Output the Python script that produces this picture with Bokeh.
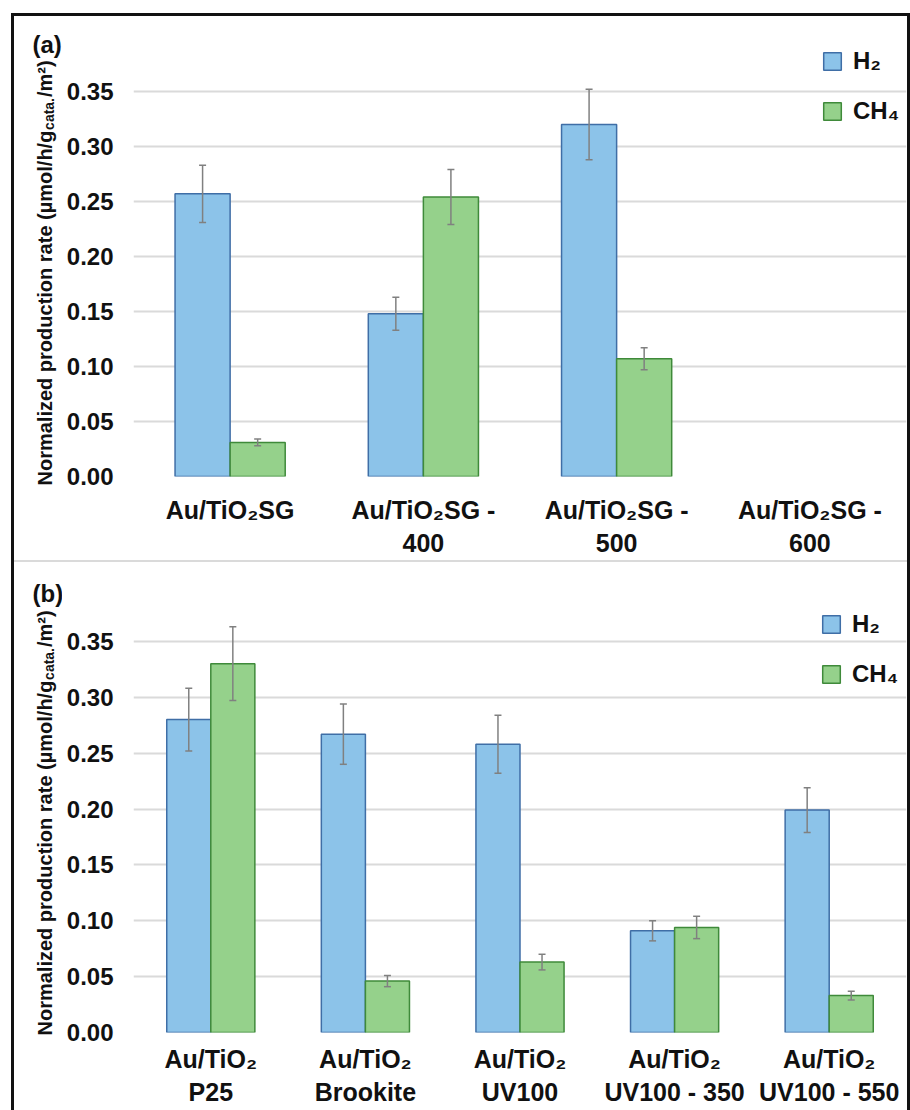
import math
from bokeh.plotting import figure
from bokeh.models import (ColumnDataSource, FactorRange, Range1d, FixedTicker,
                          PrintfTickFormatter, Whisker, TeeHead, Label, Legend,
                          LegendItem, Spacer)
from bokeh.transform import dodge
from bokeh.layouts import column, row
from bokeh.embed import file_html
from bokeh.resources import INLINE

nan = float("nan")

# ---------------- data ----------------
cats_a = ["Au/TiO₂SG", "Au/TiO₂SG -\n400", "Au/TiO₂SG -\n500", "Au/TiO₂SG -\n600"]
h2_a = [0.257, 0.148, 0.320, nan]
h2_a_err = [0.026, 0.015, 0.032, nan]
ch4_a = [0.031, 0.254, 0.107, nan]
ch4_a_err = [0.003, 0.025, 0.010, nan]

cats_b = ["Au/TiO₂\nP25", "Au/TiO₂\nBrookite", "Au/TiO₂\nUV100",
          "Au/TiO₂\nUV100 - 350", "Au/TiO₂\nUV100 - 550"]
h2_b = [0.280, 0.267, 0.258, 0.091, 0.199]
h2_b_err = [0.028, 0.027, 0.026, 0.009, 0.020]
ch4_b = [0.330, 0.046, 0.063, 0.094, 0.033]
ch4_b_err = [0.033, 0.005, 0.007, 0.010, 0.004]

y_ticks = [0.00, 0.05, 0.10, 0.15, 0.20, 0.25, 0.30, 0.35]
grid_ticks = [0.00, 0.05, 0.10, 0.15, 0.20, 0.25, 0.30, 0.35, 0.40]
series_labels = ["H₂", "CH₄"]
panel_tags = ["(a)", "(b)"]
ylabel_main = "Normalized production rate (µmol/h/g"
ylabel_sub = "cata."
ylabel_end = "/m²)"

# ---------------- style ----------------
BLUE_FILL, BLUE_LINE = "#8cc3e9", "#3f6ea6"
GREEN_FILL, GREEN_LINE = "#95d18b", "#3f8a3a"
ERR = "#808080"
GRID = "#dadada"
TXT = "#111111"
FONT = "Liberation Sans"

W = 893          # inner width of the bordered box
SIDE_W = 48      # strip holding the panel tag and the rotated y title
LEFT = 71        # left border of the chart figure (tick labels)
BAR_W = 0.285
OFF = BAR_W / 2


def no_align(fig):
    try:
        fig.frame_align = False
    except Exception:
        pass


def make_side(height, tag, tag_y, ylab_y):
    s = figure(width=SIDE_W, height=height, x_range=Range1d(0, 1), y_range=Range1d(0, 1),
               x_axis_type=None, y_axis_type=None, output_backend="svg",
               toolbar_location=None, min_border=0, outline_line_color=None,
               border_fill_color="white", background_fill_color="white")
    no_align(s)
    s.grid.visible = False
    s.add_layout(Label(x=18, y=tag_y, x_units="canvas", y_units="canvas", text=tag,
                       text_font=FONT, text_font_size="24px", text_font_style="bold",
                       text_color=TXT, text_baseline="middle", text_align="left"))
    fs_main, fs_sub = 20, 14
    w_main = 17.78 * fs_main
    w_sub = 2.28 * fs_sub
    bx = 30
    for txt, yy, fs, xx in ((ylabel_main, ylab_y, fs_main, bx),
                            (ylabel_sub, ylab_y - w_main, fs_sub, bx + 4),
                            (ylabel_end, ylab_y - w_main - w_sub - 1, fs_main, bx)):
        s.add_layout(Label(x=xx, y=yy, x_units="canvas", y_units="canvas", text=txt,
                           angle=math.pi / 2, text_font=FONT, text_font_size=f"{fs}px",
                           text_font_style="bold", text_color=TXT,
                           text_baseline="alphabetic", text_align="left"))
    return s


def make_panel(cats, h2, h2e, ch4, ch4e, height, top_b, frame_h, leg_x, leg_y, x_standoff):
    src = ColumnDataSource(dict(
        cat=cats, h2=h2, ch4=ch4,
        h2_hi=[v + e for v, e in zip(h2, h2e)], h2_lo=[v - e for v, e in zip(h2, h2e)],
        ch4_hi=[v + e for v, e in zip(ch4, ch4e)], ch4_lo=[v - e for v, e in zip(ch4, ch4e)],
    ))
    p = figure(x_range=FactorRange(factors=cats), y_range=Range1d(0, 0.40),
               width=W - SIDE_W, height=height, output_backend="svg", toolbar_location=None,
               min_border_left=LEFT, min_border_right=1, min_border_top=top_b,
               min_border_bottom=height - top_b - frame_h,
               outline_line_color=None, border_fill_color="white",
               background_fill_color="white")
    no_align(p)
    p.xgrid.visible = False
    p.ygrid.ticker = FixedTicker(ticks=grid_ticks)
    p.ygrid.grid_line_color = GRID
    p.ygrid.grid_line_width = 2

    for ax in (p.xaxis, p.yaxis):
        ax.axis_line_color = None
        ax.major_tick_line_color = None
        ax.minor_tick_line_color = None
        ax.major_tick_out = 0
        ax.major_tick_in = 0
        ax.minor_tick_out = 0
        ax.minor_tick_in = 0
        ax.major_label_text_font_style = "bold"
        ax.major_label_text_color = TXT
        ax.major_label_text_font = FONT
    p.yaxis.ticker = FixedTicker(ticks=y_ticks)
    p.yaxis.formatter = PrintfTickFormatter(format="%.2f")
    p.yaxis.major_label_text_font_size = "24px"
    p.yaxis.major_label_standoff = 20
    p.xaxis.major_label_text_font_size = "25px"
    p.xaxis.major_label_standoff = x_standoff
    p.xaxis.major_label_text_line_height = 1.2

    r1 = p.vbar(x=dodge("cat", -OFF, range=p.x_range), top="h2", width=BAR_W, source=src,
                fill_color=BLUE_FILL, line_color=BLUE_LINE, line_width=1.5)
    r2 = p.vbar(x=dodge("cat", OFF, range=p.x_range), top="ch4", width=BAR_W, source=src,
                fill_color=GREEN_FILL, line_color=GREEN_LINE, line_width=1.5)

    for off, hi, lo in ((-OFF, "h2_hi", "h2_lo"), (OFF, "ch4_hi", "ch4_lo")):
        p.add_layout(Whisker(source=src, base=dodge("cat", off, range=p.x_range),
                             upper=hi, lower=lo, line_color=ERR, line_width=1.5,
                             level="annotation",
                             upper_head=TeeHead(size=7, line_color=ERR, line_width=1.5),
                             lower_head=TeeHead(size=7, line_color=ERR, line_width=1.5)))

    leg = Legend(items=[LegendItem(label=series_labels[0], renderers=[r1]),
                        LegendItem(label=series_labels[1], renderers=[r2])],
                 location=(leg_x, leg_y), margin=0, padding=0, spacing=22,
                 glyph_width=22, glyph_height=22, label_standoff=10,
                 label_text_font=FONT, label_text_font_size="24px",
                 label_text_font_style="bold", label_text_color=TXT,
                 border_line_color=None, background_fill_alpha=0)
    p.add_layout(leg)
    return p


s1 = make_side(544, panel_tags[0], tag_y=28, ylab_y=469)
p1 = make_panel(cats_a, h2_a, h2_a_err, ch4_a, ch4_a_err,
                height=544, top_b=20, frame_h=440, leg_x=688, leg_y=351, x_standoff=19)
s2 = make_side(548, panel_tags[1], tag_y=31, ylab_y=473)
p2 = make_panel(cats_b, h2_b, h2_b_err, ch4_b, ch4_b_err,
                height=548, top_b=23, frame_h=447, leg_x=687, leg_y=344, x_standoff=12)

sep = Spacer(width=W, height=2, styles={"background-color": GRID})
layout = column(row(s1, p1, spacing=0), sep, row(s2, p2, spacing=0), spacing=0,
                margin=(13, 0, 0, 11),
                styles={"border-style": "solid", "border-color": "#111111",
                        "border-width": "3px 3px 0px 3px"})

open("out.html", "w").write(file_html(layout, INLINE))
